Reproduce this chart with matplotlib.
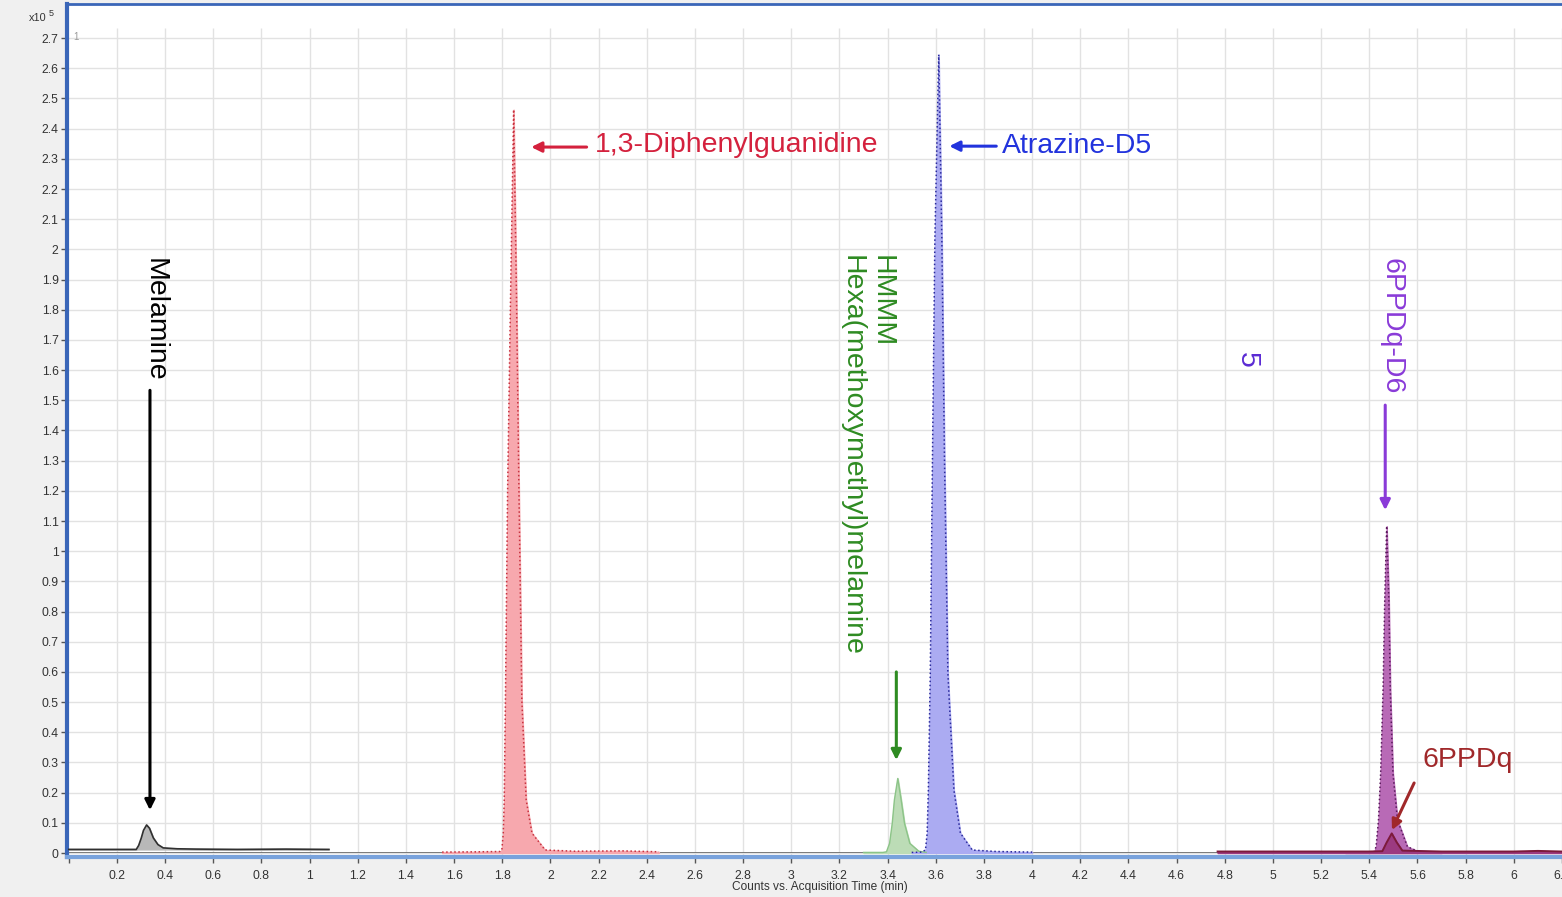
import matplotlib
matplotlib.use('Agg')
import matplotlib.pyplot as plt

plt.rcParams['font.family'] = ['Liberation Sans', 'DejaVu Sans']

# ---------------- data ----------------
# retention time (min) vs counts (x10^5)
mel_t = [0.00, 0.28, 0.290, 0.301, 0.310, 0.323, 0.335, 0.351, 0.370, 0.392, 0.45, 0.53, 0.70, 0.90, 1.08]
mel_y = [0.012, 0.012, 0.025, 0.050, 0.075, 0.093, 0.082, 0.050, 0.028, 0.017, 0.014, 0.013, 0.012, 0.013, 0.012]
mel_base = 0.012

dpg_t = [1.55, 1.70, 1.790, 1.798, 1.804, 1.808, 1.813, 1.822, 1.834, 1.847, 1.859, 1.869, 1.881, 1.899, 1.923, 1.978, 2.10, 2.30, 2.45]
dpg_y = [0.003, 0.004, 0.005, 0.010, 0.066, 0.176, 0.507, 1.202, 1.832, 2.463, 1.832, 1.202, 0.507, 0.176, 0.066, 0.010, 0.006, 0.007, 0.004]

hmmm_t = [3.30, 3.38, 3.395, 3.408, 3.419, 3.428, 3.442, 3.456, 3.470, 3.492, 3.529, 3.56]
hmmm_y = [0.002, 0.002, 0.004, 0.032, 0.098, 0.176, 0.247, 0.176, 0.098, 0.032, 0.006, 0.002]

atr_t = [3.50, 3.54, 3.557, 3.564, 3.569, 3.577, 3.586, 3.596, 3.612, 3.625, 3.636, 3.650, 3.675, 3.702, 3.751, 3.85, 4.00]
atr_y = [0.002, 0.003, 0.010, 0.066, 0.209, 0.596, 1.302, 2.030, 2.645, 2.030, 1.302, 0.596, 0.209, 0.066, 0.010, 0.005, 0.003]

d6_t = [5.30, 5.40, 5.420, 5.428, 5.438, 5.447, 5.457, 5.464, 5.472, 5.481, 5.487, 5.498, 5.517, 5.558, 5.607, 5.70]
d6_y = [0.003, 0.003, 0.004, 0.021, 0.109, 0.264, 0.540, 0.838, 1.083, 0.838, 0.540, 0.264, 0.109, 0.021, 0.004, 0.003]

q_t = [4.77, 5.00, 5.20, 5.40, 5.454, 5.472, 5.493, 5.514, 5.537, 5.70, 6.00, 6.10, 6.196]
q_y = [0.005, 0.005, 0.005, 0.005, 0.006, 0.035, 0.065, 0.035, 0.008, 0.005, 0.005, 0.007, 0.005]

x_ticks = [0.0, 0.2, 0.4, 0.6, 0.8, 1.0, 1.2, 1.4, 1.6, 1.8, 2.0, 2.2, 2.4, 2.6, 2.8, 3.0,
           3.2, 3.4, 3.6, 3.8, 4.0, 4.2, 4.4, 4.6, 4.8, 5.0, 5.2, 5.4, 5.6, 5.8, 6.0, 6.2]
x_labels = ['', '0.2', '0.4', '0.6', '0.8', '1', '1.2', '1.4', '1.6', '1.8', '2', '2.2', '2.4', '2.6',
            '2.8', '3', '3.2', '3.4', '3.6', '3.8', '4', '4.2', '4.4', '4.6', '4.8', '5', '5.2', '5.4',
            '5.6', '5.8', '6', '6.2']
y_ticks = [0.0, 0.1, 0.2, 0.3, 0.4, 0.5, 0.6, 0.7, 0.8, 0.9, 1.0, 1.1, 1.2, 1.3, 1.4, 1.5, 1.6,
           1.7, 1.8, 1.9, 2.0, 2.1, 2.2, 2.3, 2.4, 2.5, 2.6, 2.7]
y_labels = ['0', '0.1', '0.2', '0.3', '0.4', '0.5', '0.6', '0.7', '0.8', '0.9', '1', '1.1', '1.2',
            '1.3', '1.4', '1.5', '1.6', '1.7', '1.8', '1.9', '2', '2.1', '2.2', '2.3', '2.4', '2.5',
            '2.6', '2.7']

# ---------------- figure ----------------
W, H = 1562, 897
fig = plt.figure(figsize=(W / 100, H / 100), dpi=100, facecolor='#f0f0f0')
ax = fig.add_axes([67 / W, 1 - 857 / H, 1 - 67 / W, (857 - 4) / H])
ax.set_facecolor('white')
ax.set_xlim(-0.0075, 6.196)
ax.set_ylim(-0.0132, 2.813)

# grid / ticks
ax.set_yticks(y_ticks)
ax.set_yticklabels(y_labels)
ax.set_xticks(x_ticks)
ax.set_xticklabels(x_labels)
ax.grid(axis='y', color='#e2e2e2', lw=1.0, zorder=0)
ax.vlines(x_ticks[1:], -0.0132, 2.735, color='#e2e2e2', lw=1.0, zorder=0)
ax.tick_params(axis='both', labelsize=8.8, labelcolor='#333333', color='#555555',
               length=4, width=1, direction='out')
ax.tick_params(axis='x', pad=5)
ax.tick_params(axis='y', pad=2)

ax.spines['right'].set_visible(False)
ax.spines['left'].set_color('#3a66b8')
ax.spines['left'].set_linewidth(3)
ax.spines['top'].set_color('#3a66b8')
ax.spines['top'].set_linewidth(2)
ax.spines['bottom'].set_color('#78a2dc')
ax.spines['bottom'].set_linewidth(3)

ax.axhline(0, color='#555555', lw=1.3, zorder=1.5)

# traces
ax.fill_between(mel_t, mel_y, mel_base, color='#b8b8b8', zorder=2)
ax.plot(mel_t, mel_y, color='#303030', lw=1.2, zorder=3)

ax.fill_between(dpg_t, dpg_y, 0, color='#f7a8ae', zorder=2)
ax.plot(dpg_t, dpg_y, color='#c8323f', lw=1.1, ls=':', zorder=3)

ax.fill_between(hmmm_t, hmmm_y, 0, color='#bcdcb6', zorder=2)
ax.plot(hmmm_t, hmmm_y, color='#8cc488', lw=1.0, zorder=3)

ax.fill_between(atr_t, atr_y, 0, color='#ababf2', zorder=2)
ax.plot(atr_t, atr_y, color='#2a2a9c', lw=1.1, ls=':', zorder=3)

ax.fill_between(d6_t, d6_y, 0, color='#b86ab6', zorder=2)
ax.plot(d6_t, d6_y, color='#5a1a5c', lw=1.1, ls=':', zorder=3)

ax.fill_between(q_t, q_y, 0, color='#9c3a80', zorder=3.2)
ax.plot(q_t, q_y, color='#7c1a3a', lw=1.4, zorder=3.5)

# annotations
FS = 20.5


def arrow(head, tail, c):
    ax.annotate('', xy=head, xytext=tail,
                arrowprops=dict(arrowstyle='-|>', color=c, lw=2.2, mutation_scale=15,
                                shrinkA=0, shrinkB=0), zorder=6)


ax.text(0.358, 1.971, 'Melamine', rotation=-90, ha='center', va='top', fontsize=FS, color='black')
arrow((0.337, 0.142), (0.337, 1.533), 'black')

ax.text(2.183, 2.345, '1,3-Diphenylguanidine', ha='left', va='center', fontsize=FS, color='#d4213d')
arrow((1.92, 2.339), (2.15, 2.339), '#d4213d')

ax.text(3.876, 2.342, 'Atrazine-D5', ha='left', va='center', fontsize=FS, color='#2233dd')
arrow((3.656, 2.342), (3.851, 2.342), '#2233dd')

ax.text(3.312, 1.981, 'HMMM\nHexa(methoxymethyl)melamine', rotation=-90, ha='center', va='top',
        multialignment='left', fontsize=FS, color='#2e8b22', linespacing=1.2)
arrow((3.436, 0.308), (3.436, 0.600), '#2e8b22')

ax.text(5.494, 1.971, '6PPDq-D6', rotation=-90, ha='center', va='top', fontsize=FS, color='#8a3bd8')
arrow((5.466, 1.136), (5.466, 1.484), '#8a3bd8')

ax.text(4.893, 1.633, '5', rotation=-90, ha='center', va='center', fontsize=FS, color='#5b2bd4')

ax.text(5.619, 0.308, '6PPDq', ha='left', va='center', fontsize=FS, color='#a0282a')
arrow((5.494, 0.076), (5.586, 0.232), '#a0282a')

ax.text(0.017, 2.703, '1', ha='left', va='center', fontsize=7, color='#999999')

fig.text(29 / W, 1 - 18 / H, 'x10', ha='left', va='center', fontsize=7.8, color='#333333')
fig.text(49 / W, 1 - 14 / H, '5', ha='left', va='center', fontsize=6.5, color='#333333')
fig.text(820 / W, 1 - 887 / H, 'Counts vs. Acquisition Time (min)', ha='center', va='center',
         fontsize=8.6, color='#333333')

fig.savefig('out.png', dpi=100, facecolor=fig.get_facecolor())
